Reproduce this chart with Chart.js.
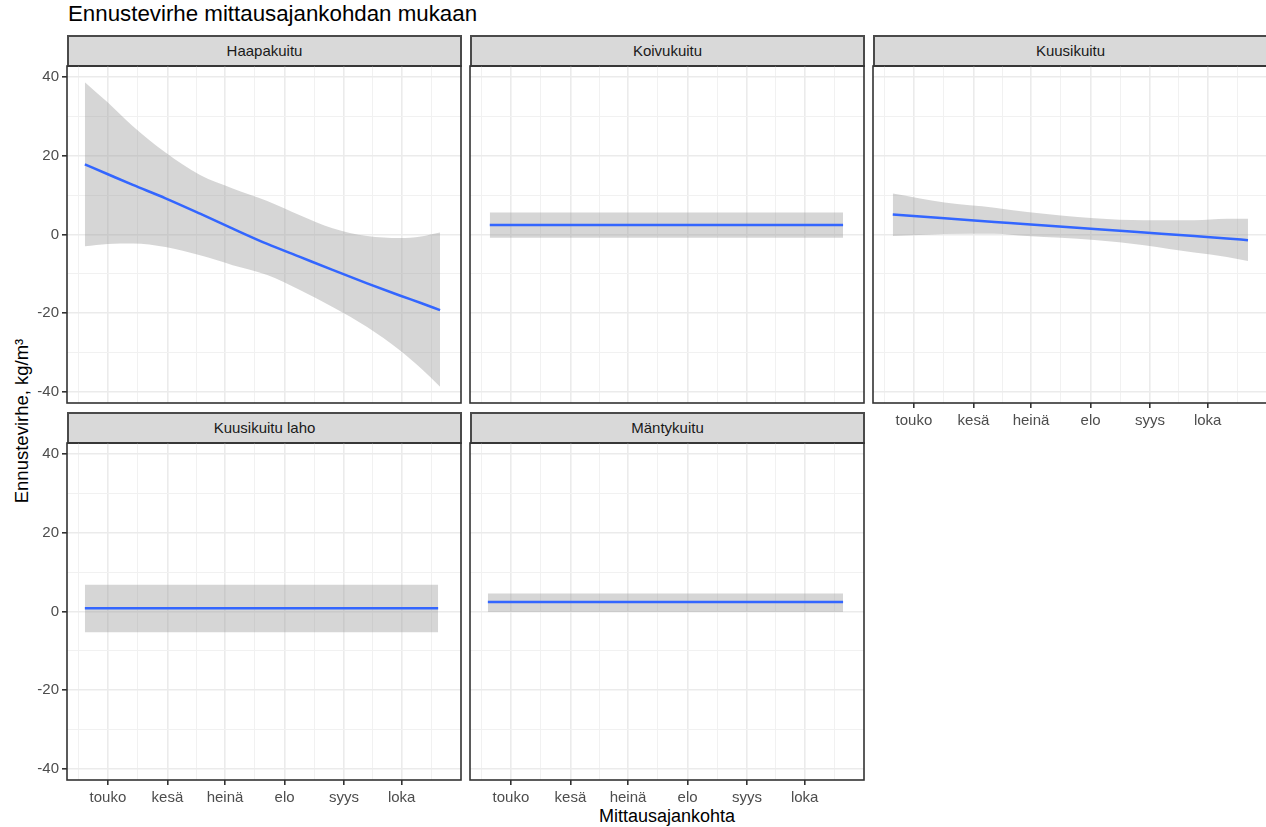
<!DOCTYPE html>
<html>
<head>
<meta charset="utf-8">
<title>Ennustevirhe mittausajankohdan mukaan</title>
<script src="https://cdn.jsdelivr.net/npm/chart.js@4.4.1/dist/chart.umd.min.js"></script>
<style>
    body {
        margin: 0;
        width: 1266px;
        height: 827px;
        overflow: hidden;
        position: relative;
        background: #fff;
        font-family: 'Liberation Sans', Arial, sans-serif;
    }
    canvas { position: absolute; }
    .strip {
        position: absolute;
        box-sizing: border-box;
        background: #d9d9d9;
        border: 2px solid #4a4a4a;
        color: #1a1a1a;
        font-size: 15px;
        line-height: 28px;
        text-align: center;
    }
    #title {
        position: absolute;
        left: 68px;
        top: 2px;
        font-size: 22.3px;
        line-height: 24px;
        color: #000;
        white-space: nowrap;
    }
    #yTitle {
        position: absolute;
        left: 22px;
        top: 421px;
        font-size: 18.5px;
        line-height: 20px;
        color: #000;
        white-space: nowrap;
        transform: translate(-50%, -50%) rotate(-90deg);
    }
    #xTitle {
        position: absolute;
        left: 667px;
        top: 806px;
        font-size: 18px;
        line-height: 20px;
        color: #000;
        white-space: nowrap;
        transform: translateX(-50%);
    }
</style>
</head>
<body>
<div id="title">Ennustevirhe mittausajankohdan mukaan</div>
<div id="yTitle">Ennustevirhe, kg/m³</div>
<div id="xTitle">Mittausajankohta</div>

<script>
// akselit
const panelNames = ['Haapakuitu', 'Koivukuitu', 'Kuusikuitu', 'Kuusikuitu laho', 'Mäntykuitu'];
const monthLabels = ['touko', 'kesä', 'heinä', 'elo', 'syys', 'loka'];
const monthDays = [0, 31, 61, 92, 123, 153];            // päivää 1.5. alkaen
const minorDays = [-15.5, 15.5, 46, 76.5, 107.5, 138, 168.5];
const yTicks = [-40, -20, 0, 20, 40];
const yMinorTicks = [-30, -10, 10, 30];

// Haapakuitu
const haapaDays = [-12, 0, 13, 30, 48, 65, 83, 100, 117, 135, 152, 163, 173];
const haapaFit = [17.8, 15.3, 12.6, 9.2, 5.3, 1.5, -2.4, -5.7, -9.0, -12.4, -15.5, -17.4, -19.2];
const haapaUpper = [38.7, 33.5, 27.5, 20.8, 15.1, 11.7, 8.5, 4.9, 1.6, -0.4, -0.9, -0.5, 0.5];
const haapaLower = [-3.0, -2.4, -2.3, -3.2, -5.3, -7.8, -10.3, -14.1, -18.4, -23.5, -29.4, -34.0, -38.7];

// Koivukuitu
const koivuDays = [-11, 173];
const koivuFit = [2.4, 2.4];
const koivuUpper = [5.6, 5.6];
const koivuLower = [-0.8, -0.8];

// Kuusikuitu
const kuusiDays = [-11, 16, 42, 59, 94, 120, 146, 163, 174];
const kuusiFit = [5.1, 4.1, 3.2, 2.6, 1.4, 0.5, -0.4, -1.0, -1.45];
const kuusiUpper = [10.4, 8.1, 6.8, 5.7, 4.1, 3.6, 3.6, 4.0, 4.0];
const kuusiLower = [-0.4, 0.1, 0.2, -0.4, -1.4, -2.7, -4.6, -5.7, -6.7];

// Kuusikuitu laho
const lahoDays = [-12, 172];
const lahoFit = [0.8, 0.8];
const lahoUpper = [6.8, 6.8];
const lahoLower = [-5.3, -5.3];

// Mäntykuitu
const mantyDays = [-12, 173];
const mantyFit = [2.4, 2.4];
const mantyUpper = [4.6, 4.6];
const mantyLower = [-0.1, -0.1];

const panelData = [
    [haapaDays, haapaFit, haapaUpper, haapaLower],
    [koivuDays, koivuFit, koivuUpper, koivuLower],
    [kuusiDays, kuusiFit, kuusiUpper, kuusiLower],
    [lahoDays, lahoFit, lahoUpper, lahoLower],
    [mantyDays, mantyFit, mantyUpper, mantyLower]
];

// asettelu
const colLeft = [67, 470, 873];
const rowTop = [66, 443];
const plotW = 394;
const plotH = 337;
const panelRow = [0, 0, 0, 1, 1];
const panelCol = [0, 1, 2, 0, 1];
const showXAxis = [false, false, true, true, true];
const showYAxis = [true, false, false, true, false];

Chart.defaults.font.family = "'Liberation Sans', Arial, sans-serif";

const panelBorder = {
    id: 'panelBorder',
    afterDatasetsDraw(chart) {
        const a = chart.chartArea;
        const ctx = chart.ctx;
        ctx.save();
        ctx.strokeStyle = '#333333';
        ctx.lineWidth = 1.6;
        ctx.strokeRect(a.left, a.top, a.right - a.left, a.bottom - a.top);
        ctx.restore();
    }
};

function toPoints(days, values) {
    return days.map(function (d, i) { return { x: d, y: values[i] }; });
}

function drawPanel(i) {
    const r = panelRow[i], c = panelCol[i];
    const pad = 3;
    const L = showYAxis[i] ? 67 : 0;
    const B = showXAxis[i] ? 32 : 0;

    const strip = document.createElement('div');
    strip.className = 'strip';
    strip.textContent = panelNames[i];
    strip.style.left = colLeft[c] + 'px';
    strip.style.top = (rowTop[r] - 31) + 'px';
    strip.style.width = (plotW + 1) + 'px';
    strip.style.height = '32px';
    document.body.appendChild(strip);

    const canvas = document.createElement('canvas');
    canvas.width = plotW + L + 2 * pad;
    canvas.height = plotH + B + 2 * pad;
    canvas.style.left = (colLeft[c] - L - pad) + 'px';
    canvas.style.top = (rowTop[r] - pad) + 'px';
    document.body.appendChild(canvas);

    const d = panelData[i];
    const xAll = minorDays.concat(monthDays).sort(function (a, b) { return a - b; });
    const yAll = yMinorTicks.concat(yTicks).sort(function (a, b) { return a - b; });

    new Chart(canvas, {
        type: 'line',
        data: {
            datasets: [{
                data: toPoints(d[0], d[1]),
                borderColor: '#3366FF',
                borderWidth: 2.5,
                pointRadius: 0,
                cubicInterpolationMode: 'monotone',
                fill: false
            }, {
                data: toPoints(d[0], d[2]),
                borderWidth: 0,
                pointRadius: 0,
                cubicInterpolationMode: 'monotone',
                backgroundColor: 'rgba(153,153,153,0.4)',
                fill: '+1'
            }, {
                data: toPoints(d[0], d[3]),
                borderWidth: 0,
                pointRadius: 0,
                cubicInterpolationMode: 'monotone',
                fill: false
            }]
        },
        options: {
            responsive: false,
            animation: false,
            events: [],
            layout: { padding: pad },
            plugins: {
                legend: { display: false },
                tooltip: { enabled: false }
            },
            scales: {
                x: {
                    type: 'linear',
                    min: -21.3,
                    max: 183.9,
                    afterBuildTicks: function (s) {
                        s.ticks = xAll.map(function (v) { return { value: v }; });
                    },
                    afterFit: function (s) {
                        s.height = B;
                        s.paddingLeft = 0;
                        s.paddingRight = 0;
                    },
                    border: { display: false },
                    grid: {
                        color: function (ctx) {
                            return ctx.tick && monthDays.indexOf(ctx.tick.value) >= 0 ? '#ebebeb' : '#f1f1f1';
                        },
                        lineWidth: function (ctx) {
                            return ctx.tick && monthDays.indexOf(ctx.tick.value) >= 0 ? 1.6 : 1;
                        },
                        drawTicks: showXAxis[i],
                        tickLength: 5,
                        tickWidth: 1.6,
                        tickColor: function (ctx) {
                            return ctx.tick && monthDays.indexOf(ctx.tick.value) >= 0 ? '#333333' : 'rgba(0,0,0,0)';
                        }
                    },
                    ticks: {
                        display: showXAxis[i],
                        autoSkip: false,
                        maxRotation: 0,
                        minRotation: 0,
                        padding: 4,
                        color: '#4d4d4d',
                        font: { size: 15 },
                        callback: function (v) {
                            const k = monthDays.indexOf(v);
                            return k >= 0 ? monthLabels[k] : '';
                        }
                    }
                },
                y: {
                    type: 'linear',
                    min: -42.8,
                    max: 42.8,
                    afterBuildTicks: function (s) {
                        s.ticks = yAll.map(function (v) { return { value: v }; });
                    },
                    afterFit: function (s) {
                        s.width = L;
                        s.paddingTop = 0;
                        s.paddingBottom = 0;
                    },
                    border: { display: false },
                    grid: {
                        color: function (ctx) {
                            return ctx.tick && yTicks.indexOf(ctx.tick.value) >= 0 ? '#ebebeb' : '#f1f1f1';
                        },
                        lineWidth: function (ctx) {
                            return ctx.tick && yTicks.indexOf(ctx.tick.value) >= 0 ? 1.6 : 1;
                        },
                        drawTicks: showYAxis[i],
                        tickLength: 5,
                        tickWidth: 1.6,
                        tickColor: function (ctx) {
                            return ctx.tick && yTicks.indexOf(ctx.tick.value) >= 0 ? '#333333' : 'rgba(0,0,0,0)';
                        }
                    },
                    ticks: {
                        display: showYAxis[i],
                        autoSkip: false,
                        padding: 3,
                        color: '#4d4d4d',
                        font: { size: 15 },
                        callback: function (v) {
                            return yTicks.indexOf(v) >= 0 ? String(v) : '';
                        }
                    }
                }
            }
        },
        plugins: [panelBorder]
    });
}

for (let i = 0; i < panelNames.length; i++) {
    drawPanel(i);
}
</script>
</body>
</html>
